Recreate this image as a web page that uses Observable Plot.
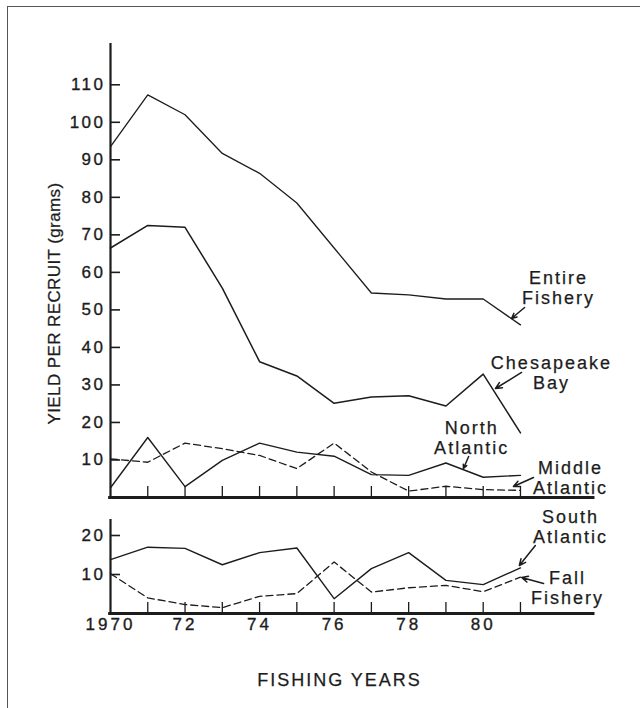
<!DOCTYPE html>
<html><head><meta charset="utf-8">
<script src="https://cdn.jsdelivr.net/npm/d3@7"></script>
<script src="https://cdn.jsdelivr.net/npm/@observablehq/plot@0.6"></script>
<style>
body{margin:0;background:#fff;}
#wrap{position:relative;width:640px;height:708px;overflow:hidden;background:#fff;}
#frame{position:absolute;left:7px;top:6px;width:660px;height:720px;border-left:1.5px solid #555;border-top:1.5px solid #555;pointer-events:none;}
#top,#bot{position:absolute;left:0;}
#top{top:0}
#bot{top:505px}
svg text{letter-spacing:2px;}
</style></head><body>
<div id="wrap"><div id="top"></div><div id="bot"></div><div id="frame"></div></div>
<script>
// ---- data ----
const years = [1970,1971,1972,1973,1974,1975,1976,1977,1978,1979,1980,1981];
const entireFishery  = [93.5,107.3,102.0,91.7,86.4,78.5,66.5,54.5,54.0,52.9,52.9,46.0];
const chesapeakeBay  = [66.5,72.5,72.0,55.8,36.2,32.4,25.1,26.8,27.1,24.4,32.9,17.2];
const northAtlantic  = [2.6,16.0,2.9,9.9,14.5,12.1,11.0,6.1,5.9,9.2,5.4,5.9];
const middleAtlantic = [10.3,9.4,14.5,13.0,11.2,7.7,14.5,6.8,1.7,3.0,2.1,1.9];
const southAtlantic  = [13.8,17.0,16.7,12.5,15.6,16.8,3.8,11.5,15.6,8.5,7.4,11.7];
const fallFishery    = [10.2,4.0,2.3,1.5,4.4,5.1,13.2,5.5,6.6,7.2,5.6,9.3];

const topYTicks = [10,20,30,40,50,60,70,80,90,100,110];
const bottomYTicks = [10,20];
const xTickYears = [1970,1972,1974,1976,1978,1980];
const xTickLabels = ["1970","72","74","76","78","80"];
const yAxisLabel = "YIELD PER RECRUIT (grams)";
const xAxisLabel = "FISHING YEARS";

// series names for annotation
const topLabelTexts = ["Entire\nFishery","Chesapeake\nBay","North\nAtlantic","Middle\nAtlantic"];
const bottomLabelTexts = ["South\nAtlantic","Fall\nFishery"];

// ---- annotation placement (data units) ----
const topLabelPos = [[1982.02,55.97],[1981.83,33.18],[1979.69,15.99],[1982.34,5.2]];
const topArrowPos = [[1981.11,50.64,1980.76,47.71],[1981.03,33.32,1980.33,29.05],[1979.61,10.93,1979.47,7.73],[1981.35,5.33,1980.81,2.93]];
const bottomLabelPos = [[1982.34,22.18],[1982.26,6.54]];
const bottomArrowPos = [[1981.40,17.44,1980.97,12.31],[1981.62,7.69,1981.03,9.23]];

const FONT = "Liberation Sans, Arial, Helvetica, sans-serif";
const INK = "#1c1c1c";
const pxPerYear = (594.5 - 110) / 13;
const heavy = {fill: INK, stroke: INK, strokeWidth: 0.35, fontFamily: FONT};

const toRows = (vals) => years.map((y, i) => ({year: y, value: vals[i]}));
const labelRows = (texts, pos) => texts.map((t, i) => ({text: t, x: pos[i][0], y: pos[i][1]}));
const arrowRows = (pos) => pos.map(p => ({x1: p[0], y1: p[1], x2: p[2], y2: p[3]}));

const xScale = {domain: [1970, 1983], axis: null};

// ---- top panel ----
const topMax = 121;
const topPlot = Plot.plot({
  width: 640, height: 505,
  marginLeft: 110, marginRight: 45.5, marginTop: 43, marginBottom: 8,
  style: {background: "transparent", fontFamily: FONT, color: INK},
  x: xScale,
  y: {domain: [0, topMax], axis: null},
  marks: [
    Plot.ruleX([1970], {y1: 0, y2: topMax, stroke: INK, strokeWidth: 2.2}),
    Plot.ruleY([0], {x1: 1969.95, x2: 1983, stroke: INK, strokeWidth: 3}),
    Plot.ruleY(topYTicks, {y: d => d, x1: 1970, x2: 1970 + 10 / pxPerYear, stroke: INK, strokeWidth: 1.6}),
    Plot.ruleX(years.slice(1), {x: d => d, y1: 0, y2: 11 / 3.752, stroke: INK, strokeWidth: 1.3}),
    Plot.text(topYTicks, {x: 1970, y: d => d, text: d => String(d), textAnchor: "end", dx: -5, fontSize: 17, ...heavy}),
    Plot.text([yAxisLabel], {x: 1970 + (54 - 110) / pxPerYear, y: (497 - 303) / 3.752, text: d => d, rotate: -90, fontSize: 17, ...heavy, strokeWidth: 0.25}),
    Plot.line(toRows(entireFishery), {x: "year", y: "value", stroke: INK, strokeWidth: 1.3}),
    Plot.line(toRows(chesapeakeBay), {x: "year", y: "value", stroke: INK, strokeWidth: 1.5}),
    Plot.line(toRows(northAtlantic), {x: "year", y: "value", stroke: INK, strokeWidth: 1.4}),
    Plot.line(toRows(middleAtlantic), {x: "year", y: "value", stroke: INK, strokeWidth: 1.3, strokeDasharray: "7,4"}),
    Plot.arrow(arrowRows(topArrowPos), {x1: "x1", y1: "y1", x2: "x2", y2: "y2", stroke: INK, strokeWidth: 1.5, headLength: 7, headAngle: 50}),
    Plot.text(labelRows(topLabelTexts, topLabelPos), {x: "x", y: "y", text: "text", fontSize: 18, lineHeight: 1.11, ...heavy, strokeWidth: 0.25})
  ]
});
document.getElementById("top").appendChild(topPlot);

// ---- bottom panel ----
const botMax = 24.1;
const botPlot = Plot.plot({
  width: 640, height: 203,
  marginLeft: 110, marginRight: 45.5, marginTop: 14, marginBottom: 95,
  style: {background: "transparent", fontFamily: FONT, color: INK},
  x: xScale,
  y: {domain: [0, botMax], axis: null},
  marks: [
    Plot.ruleX([1970], {y1: 0, y2: botMax, stroke: INK, strokeWidth: 2.2}),
    Plot.ruleY([0], {x1: 1969.95, x2: 1983, stroke: INK, strokeWidth: 3}),
    Plot.ruleY(bottomYTicks, {y: d => d, x1: 1970, x2: 1970 + 10 / pxPerYear, stroke: INK, strokeWidth: 1.6}),
    Plot.ruleX(years.slice(1), {x: d => d, y1: 0, y2: 11 / 3.9, stroke: INK, strokeWidth: 1.3}),
    Plot.text(bottomYTicks, {x: 1970, y: d => d, text: d => String(d), textAnchor: "end", dx: -5, fontSize: 17, ...heavy}),
    Plot.text(xTickYears, {x: d => d, y: 0, text: (d, i) => xTickLabels[i], dy: 11, dx: 0, fontSize: 17, ...heavy}),
    Plot.text([xAxisLabel], {x: 1970 + (339 - 110) / pxPerYear, y: 0, text: d => d, dy: 67, fontSize: 18, ...heavy, strokeWidth: 0.25}),
    Plot.line(toRows(southAtlantic), {x: "year", y: "value", stroke: INK, strokeWidth: 1.4}),
    Plot.line(toRows(fallFishery), {x: "year", y: "value", stroke: INK, strokeWidth: 1.3, strokeDasharray: "7,4"}),
    Plot.arrow(arrowRows(bottomArrowPos), {x1: "x1", y1: "y1", x2: "x2", y2: "y2", stroke: INK, strokeWidth: 1.5, headLength: 7, headAngle: 50}),
    Plot.text(labelRows(bottomLabelTexts, bottomLabelPos), {x: "x", y: "y", text: "text", fontSize: 18, lineHeight: 1.11, ...heavy, strokeWidth: 0.25})
  ]
});
document.getElementById("bot").appendChild(botPlot);

// letter spacing per text group (typographic only)
d3.select(topPlot).selectAll("text").each(function() {
  if (this.textContent === yAxisLabel) this.style.letterSpacing = "0.4px";
  else if (/^\d+$/.test(this.textContent)) this.style.letterSpacing = "2.5px";
});
d3.select(botPlot).selectAll("text").each(function() {
  if (xTickLabels.includes(this.textContent)) this.style.letterSpacing = "3px";
  else if (/^\d+$/.test(this.textContent)) this.style.letterSpacing = "2.5px";
});
</script>
</body></html>
